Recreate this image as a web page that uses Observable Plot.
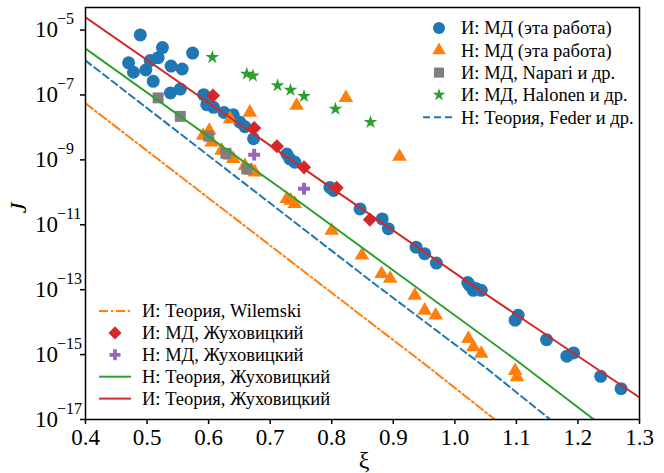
<!DOCTYPE html>
<html><head><meta charset="utf-8">
<script src="https://cdn.jsdelivr.net/npm/d3@7"></script>
<script src="https://cdn.jsdelivr.net/npm/@observablehq/plot@0.6"></script>
<style>
body{margin:0;background:#fff} svg{display:block}
</style>
</head><body><div id="chart"></div>
<script>
// ---- tick labels ----
const xTicks = [0.4,0.5,0.6,0.7,0.8,0.9,1.0,1.1,1.2,1.3];
const yTicks = [1e-5,1e-7,1e-9,1e-11,1e-13,1e-15,1e-17];
const yTickExp = ["−5","−7","−9","−11","−13","−15","−17"];

// ---- series (xi, log10 J) ----
const mdThisI_xi = [0.470,0.478,0.489,0.498,0.505,0.518,0.510,0.525,0.539,0.557,0.574,0.538,0.554,0.592,0.597,0.608,0.625,0.640,0.651,0.659,0.673,0.727,0.732,0.740,0.797,0.803,0.846,0.882,0.892,0.937,0.951,0.970,1.021,1.024,1.030,1.034,1.043,1.103,1.098,1.149,1.182,1.193,1.237,1.270];
const mdThisI_logJ = [-6.01,-6.30,-5.15,-6.23,-5.94,-5.85,-6.58,-5.54,-6.11,-6.20,-5.71,-6.94,-6.82,-6.99,-7.30,-7.38,-7.54,-7.61,-7.84,-7.98,-8.35,-8.82,-8.97,-9.07,-9.85,-9.94,-10.51,-10.82,-11.12,-11.69,-11.89,-12.18,-12.78,-12.87,-13.02,-12.96,-13.02,-13.79,-13.94,-14.54,-15.05,-14.95,-15.67,-16.05];

const mdThisN_xi = [0.667,0.743,0.823,0.910,0.635,0.601,0.591,0.605,0.621,0.635,0.640,0.659,0.670,0.675,0.727,0.733,0.740,0.800,0.849,0.881,0.895,0.935,0.951,0.969,1.022,1.030,1.043,1.098,1.101];
const mdThisN_logJ = [-7.54,-7.33,-7.09,-8.90,-7.74,-8.10,-8.25,-8.46,-8.71,-8.87,-8.97,-9.18,-9.33,-9.38,-10.20,-10.25,-10.35,-11.18,-11.94,-12.51,-12.66,-13.18,-13.64,-13.79,-14.51,-14.77,-14.97,-15.50,-15.69];

const napari_xi = [0.518,0.554,0.600,0.628,0.662];
const napari_logJ = [-7.09,-7.66,-8.27,-8.80,-9.28];

const halonen_xi = [0.606,0.662,0.672,0.712,0.733,0.755,0.806,0.863];
const halonen_logJ = [-5.84,-6.35,-6.41,-6.71,-6.85,-7.04,-7.43,-7.84];

const zhukI_xi = [0.607,0.674,0.711,0.755,0.808,0.862];
const zhukI_logJ = [-7.02,-8.02,-8.58,-9.23,-9.86,-10.84];

const zhukN_xi = [0.674,0.755];
const zhukN_logJ = [-8.84,-9.89];

// theory curves
const thZhukI_xi = [0.4,0.8,1.041,1.3];
const thZhukI_logJ = [-4.61,-9.87,-13.02,-16.32];
const thZhukN_xi = [0.4,0.716,0.878,1.096,1.226];
const thZhukN_logJ = [-5.57,-9.86,-12.10,-15.12,-17.0];
const thFeder_xi = [0.4,0.862,1.052,1.155];
const thFeder_logJ = [-5.94,-12.71,-15.43,-17.0];
const thWilemski_xi = [0.4,0.862,0.957,1.065];
const thWilemski_logJ = [-7.26,-14.0,-15.38,-17.0];

const pts = (xs, ls) => xs.map((x,i)=>({xi:x, J:Math.pow(10, ls[i])}));

const C = {blue:"#1f77b4", orange:"#ff7f0e", green:"#2ca02c", red:"#d62728", purple:"#9467bd", gray:"#7f7f7f"};
const FONT = "'Liberation Serif', 'DejaVu Serif', serif";

const R = {circle:6.5, triangle:5.4, square:6.2, star:4.3, diamond2:6.4, cross:5.0};

const plot = Plot.plot({
  width:664, height:473,
  marginLeft:85, marginRight:25, marginTop:7, marginBottom:54,
  style:{background:"white", color:"black"},
  x:{domain:[0.4,1.3]},
  y:{type:"log", domain:[1e-17, Math.pow(10,-4.305)]},
  marks:[
    Plot.dot(pts(mdThisI_xi, mdThisI_logJ), {x:"xi", y:"J", symbol:"circle", r:R.circle, fill:C.blue}),
    Plot.dot(pts(mdThisN_xi, mdThisN_logJ), {x:"xi", y:"J", symbol:"triangle", r:R.triangle, fill:C.orange}),
    Plot.dot(pts(napari_xi, napari_logJ), {x:"xi", y:"J", symbol:"square", r:R.square, fill:C.gray}),
    Plot.dot(pts(halonen_xi, halonen_logJ), {x:"xi", y:"J", symbol:"star", r:R.star, fill:C.green}),
    Plot.dot(pts(zhukI_xi, zhukI_logJ), {x:"xi", y:"J", symbol:"diamond2", r:R.diamond2, fill:C.red}),
    Plot.dot(pts(zhukN_xi, zhukN_logJ), {x:"xi", y:"J", symbol:"cross", r:R.cross, fill:C.purple}),
    Plot.line(pts(thWilemski_xi, thWilemski_logJ), {x:"xi", y:"J", stroke:C.orange, strokeWidth:2, strokeDasharray:"9,3,2,3", clip:true}),
    Plot.line(pts(thFeder_xi, thFeder_logJ), {x:"xi", y:"J", stroke:C.blue, strokeWidth:2, strokeDasharray:"7,4", clip:true}),
    Plot.line(pts(thZhukN_xi, thZhukN_logJ), {x:"xi", y:"J", stroke:C.green, strokeWidth:2, clip:true}),
    Plot.line(pts(thZhukI_xi, thZhukI_logJ), {x:"xi", y:"J", stroke:C.red, strokeWidth:2, clip:true}),
    Plot.frame({stroke:"black", strokeWidth:1.5}),
    Plot.axisX({ticks:xTicks, tickFormat:d=>d.toFixed(1), fontSize:23, tickSize:5, tickPadding:4, strokeWidth:1.5, label:null}),
    Plot.axisY({ticks:yTicks, tickFormat:()=>"", tickSize:5, strokeWidth:1.5, label:null}),
    Plot.text(yTicks, {y:d=>d, text:()=>"10", frameAnchor:"left", textAnchor:"start", dx:-50.5, dy:0, fontSize:23}),
    Plot.text(yTicks, {y:d=>d, text:(d,i)=>yTickExp[i], frameAnchor:"left", textAnchor:"start", dx:-28.6, dy:-11, fontSize:16})
  ]
});
document.getElementById("chart").appendChild(plot);

// ---- axis titles and legends (overlay) ----
const svg = d3.select(plot);
svg.append("text").attr("transform","translate(20,208) rotate(-90)")
  .attr("text-anchor","middle").attr("dominant-baseline","middle")
  .attr("font-style","italic").attr("font-size",24).text("J");
svg.append("text").attr("x",364).attr("y",462)
  .attr("text-anchor","middle").attr("dominant-baseline","middle")
  .attr("font-size",24).text("ξ");

const sym = {circle:d3.symbolCircle, triangle:d3.symbolTriangle, square:d3.symbolSquare, star:d3.symbolStar, diamond2:d3.symbolDiamond2, cross:d3.symbolCross};
function legend(items, x0, textX, y0, dy){
  const g = svg.append("g").attr("font-size",18.5).attr("text-anchor","start");
  items.forEach((it,i)=>{
    const y = y0 + i*dy;
    if (it.symbol){
      g.append("path").attr("transform",`translate(${x0},${y})`)
        .attr("d", d3.symbol(sym[it.symbol], Math.PI*R[it.symbol]*R[it.symbol]*0.85)()).attr("fill",it.color);
    } else {
      g.append("line").attr("x1",x0-16).attr("x2",x0+16).attr("y1",y).attr("y2",y)
        .attr("stroke",it.color).attr("stroke-width",2).attr("stroke-dasharray",it.dash||null);
    }
    g.append("text").attr("x",textX).attr("y",y).attr("dy","0.35em").attr("text-anchor","start").text(it.label);
  });
}
legend([
  {symbol:"circle", color:C.blue, label:"И: МД (эта работа)"},
  {symbol:"triangle", color:C.orange, label:"Н: МД (эта работа)"},
  {symbol:"square", color:C.gray, label:"И: МД, Napari и др."},
  {symbol:"star", color:C.green, label:"И: МД, Halonen и др."},
  {color:C.blue, dash:"7,4", label:"Н: Теория, Feder и др."}
], 439, 461, 28, 22.3);
legend([
  {color:C.orange, dash:"9,3,2,3", label:"И: Теория, Wilemski"},
  {symbol:"diamond2", color:C.red, label:"И: МД, Жуховицкий"},
  {symbol:"cross", color:C.purple, label:"Н: МД, Жуховицкий"},
  {color:C.green, label:"Н: Теория, Жуховицкий"},
  {color:C.red, label:"И: Теория, Жуховицкий"}
], 115, 142, 311, 21.9);

// serif font on every text element
svg.attr("font-family", FONT).style("font-family", FONT);
svg.selectAll("text").style("font-family", FONT);
</script>
</body></html>
